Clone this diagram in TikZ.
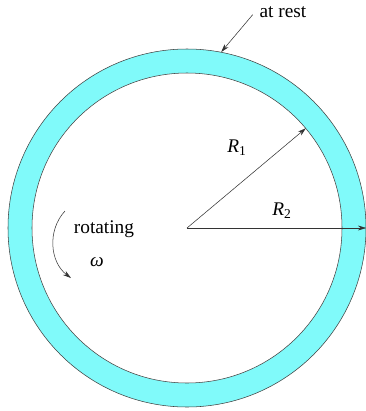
\documentclass[tikz,border=0pt]{standalone}
\usepackage{fontspec}
\setmainfont{Liberation Serif}
\usetikzlibrary{arrows.meta,positioning}
\definecolor{ringcyan}{RGB}{128,250,250}

\begin{document}
\begin{tikzpicture}[
  x=0.75pt, y=-0.75pt,
  ring/.style={circle, draw=black!75, thin, inner sep=0pt},
  arr/.style={-{Stealth[length=2.2mm, width=1.3mm]}, draw=black!80, thin},
  lab/.style={font=\fontsize{14.5}{17}\selectfont, inner sep=1pt}
]
\useasboundingbox (0,0) rectangle (366,411);
\coordinate (c) at (187,228);
\node[ring, fill=ringcyan, minimum size=268.5pt] (outer) at (c) {};
\node[ring, fill=white, minimum size=232.5pt] (inner) at (c) {};
% radii
\draw[arr] (c) -- (inner.40);
\draw[arr] (c) -- (outer.east);
\node[lab] (r1) at (237,148) {{\itshape R}\textsubscript{1}};
\node[lab] (r2) at (282,211) {{\itshape R}\textsubscript{2}};
% outer wall label
\node[lab] (rest) at (283,12) {at rest};
\coordinate (restfrom) at ([xshift=-4pt, yshift=-2pt]rest.west);
\draw[arr] (restfrom) -- (outer.79);
% rotation
\node[lab] (rot) at (104,229) {rotating};
\node[lab] (omega) at (97,262) {\itshape ω};
\coordinate (rotfrom) at (65,211);
\coordinate (rotto) at (71,278);
\draw[arr] (rotfrom) to[bend right=48] (rotto);
\end{tikzpicture}
\end{document}
